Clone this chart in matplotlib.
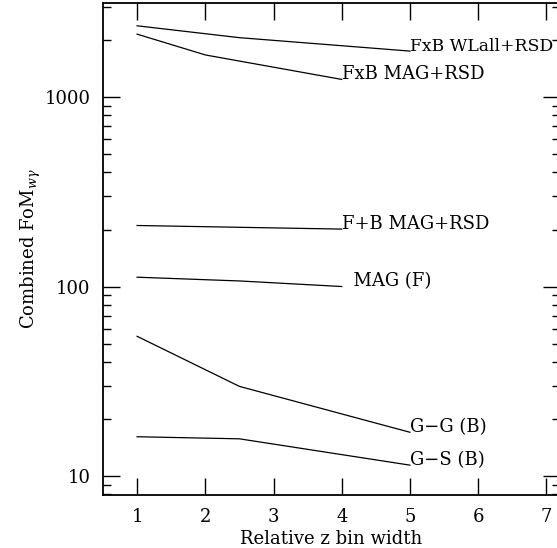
import numpy as np
import matplotlib
matplotlib.use('Agg')
import matplotlib.pyplot as plt
from matplotlib.ticker import LogLocator, NullFormatter, FixedLocator, FixedFormatter

plt.rcParams['font.family'] = ['DejaVu Serif']
plt.rcParams['mathtext.fontset'] = 'dejavuserif'

# values
x_wlall = [1, 2.5, 5]
y_wlall = [2380, 2060, 1750]
x_fxb_mag = [1, 2, 4]
y_fxb_mag = [2150, 1670, 1240]
x_fpb_mag = [1, 4]
y_fpb_mag = [210, 201]
x_mag = [1, 2.5, 4]
y_mag = [112, 107, 100]
x_gg = [1, 2.5, 5]
y_gg = [54.6, 29.7, 17.0]
x_gs = [1, 2.5, 5]
y_gs = [16.1, 15.7, 11.4]

series = [
    (x_wlall, y_wlall, 'FxB WLall+RSD', 12.4),
    (x_fxb_mag, y_fxb_mag, 'FxB MAG+RSD', 13),
    (x_fpb_mag, y_fpb_mag, 'F+B MAG+RSD', 13),
    (x_mag, y_mag, '  MAG (F)', 13),
    (x_gg, y_gg, 'G\u2212G (B)', 13),
    (x_gs, y_gs, 'G\u2212S (B)', 13),
]

x_ticks = [1, 2, 3, 4, 5, 6, 7]
y_ticks = [10, 100, 1000]
y_ticklabels = ['10', '100', '1000']

fig = plt.figure(figsize=(5.57, 5.48), dpi=100)
ax = fig.add_axes([103/557, 53/548, 457/557, 492/548])

for xs, ys, lab, fs in series:
    ax.plot(xs, ys, color='black', lw=0.9)
    ax.text(xs[-1], ys[-1], lab, fontsize=fs, ha='left', va='baseline')

ax.set_yscale('log')
ax.set_xlim(0.5, 7.2)
ax.set_ylim(7.93, 3140)

ax.xaxis.set_major_locator(FixedLocator(x_ticks))
ax.yaxis.set_major_locator(FixedLocator(y_ticks))
ax.yaxis.set_major_formatter(FixedFormatter(y_ticklabels))
ax.yaxis.set_minor_locator(LogLocator(base=10, subs=np.arange(2, 10)))
ax.yaxis.set_minor_formatter(NullFormatter())

ax.tick_params(which='both', direction='in', top=True, right=True,
               labelsize=13, width=1.0)
ax.tick_params(which='major', length=12, pad=9)
ax.tick_params(which='minor', length=6)
for s in ax.spines.values():
    s.set_linewidth(1.3)

ax.set_xlabel('Relative z bin width', fontsize=13, labelpad=3)
ax.set_ylabel(r'Combined FoM$_{w\gamma}$', fontsize=13, labelpad=1)

fig.savefig('out.png', dpi=100)
